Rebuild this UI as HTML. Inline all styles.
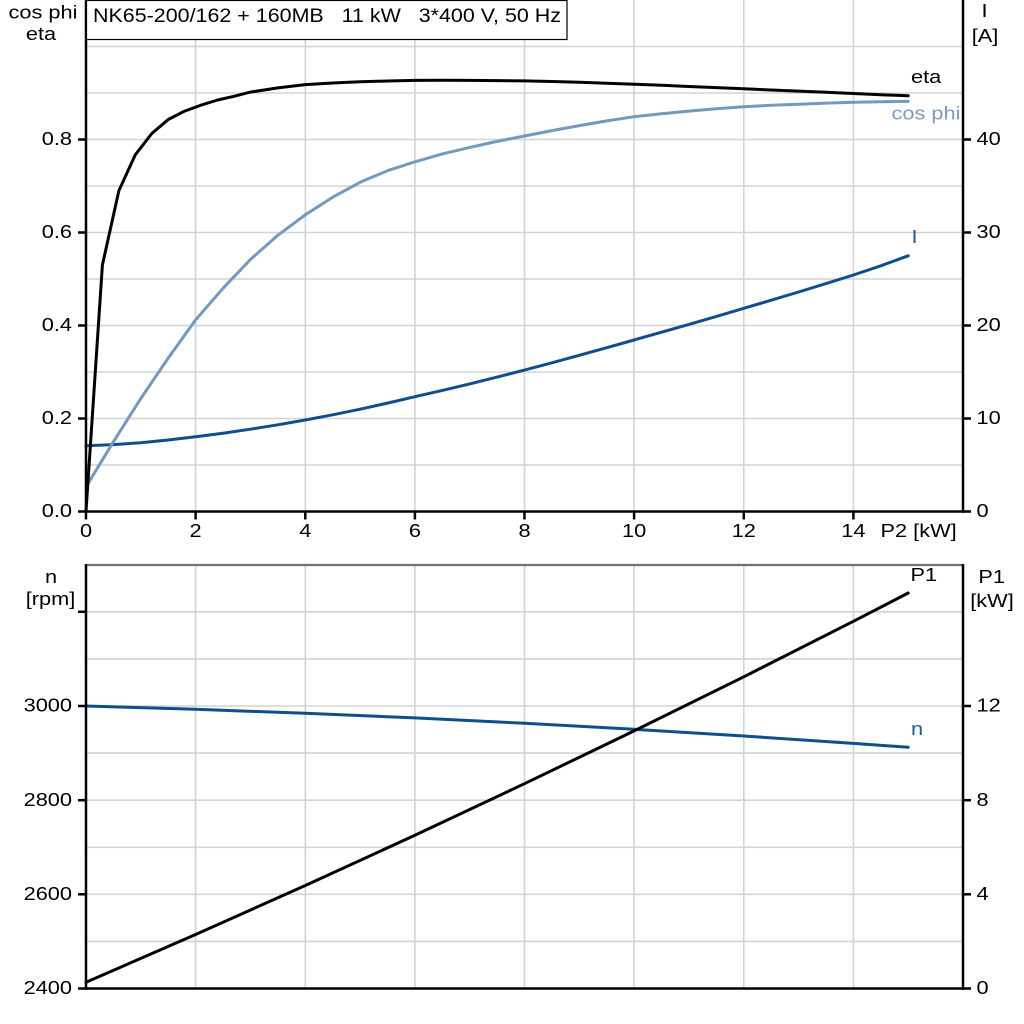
<!DOCTYPE html>
<html>
<head>
<meta charset="utf-8">
<style>
html,body{margin:0;padding:0;background:#fff;}
svg{display:block;}
text{font-family:"Liberation Sans",Arial,sans-serif;font-size:18.6px;fill:#000;}
</style>
</head>
<body>
<svg width="1024" height="1024" viewBox="0 0 1024 1024" xmlns="http://www.w3.org/2000/svg">
<rect x="0" y="0" width="1024" height="1024" fill="#fff"/>

<!-- ===== TOP CHART GRID ===== -->
<g stroke="#d3d3d3" stroke-width="1.6" fill="none">
  <line x1="86" y1="465" x2="963" y2="465"/>
  <line x1="86" y1="418.5" x2="963" y2="418.5"/>
  <line x1="86" y1="372" x2="963" y2="372"/>
  <line x1="86" y1="325.5" x2="963" y2="325.5"/>
  <line x1="86" y1="279" x2="963" y2="279"/>
  <line x1="86" y1="232.5" x2="963" y2="232.5"/>
  <line x1="86" y1="186" x2="963" y2="186"/>
  <line x1="86" y1="139.5" x2="963" y2="139.5"/>
  <line x1="86" y1="93" x2="963" y2="93"/>
  <line x1="86" y1="46.5" x2="963" y2="46.5"/>
  <line x1="195.6" y1="0" x2="195.6" y2="511.5"/>
  <line x1="305.3" y1="0" x2="305.3" y2="511.5"/>
  <line x1="414.9" y1="0" x2="414.9" y2="511.5"/>
  <line x1="524.5" y1="0" x2="524.5" y2="511.5"/>
  <line x1="634.1" y1="0" x2="634.1" y2="511.5"/>
  <line x1="743.8" y1="0" x2="743.8" y2="511.5"/>
  <line x1="853.4" y1="0" x2="853.4" y2="511.5"/>
</g>

<!-- ===== BOTTOM CHART GRID ===== -->
<g stroke="#d3d3d3" stroke-width="1.6" fill="none">
  <line x1="86" y1="611.8" x2="963" y2="611.8"/>
  <line x1="86" y1="658.9" x2="963" y2="658.9"/>
  <line x1="86" y1="706" x2="963" y2="706"/>
  <line x1="86" y1="753.1" x2="963" y2="753.1"/>
  <line x1="86" y1="800.2" x2="963" y2="800.2"/>
  <line x1="86" y1="847.3" x2="963" y2="847.3"/>
  <line x1="86" y1="894.3" x2="963" y2="894.3"/>
  <line x1="86" y1="941.4" x2="963" y2="941.4"/>
  <line x1="195.6" y1="565" x2="195.6" y2="988.5"/>
  <line x1="305.3" y1="565" x2="305.3" y2="988.5"/>
  <line x1="414.9" y1="565" x2="414.9" y2="988.5"/>
  <line x1="524.5" y1="565" x2="524.5" y2="988.5"/>
  <line x1="634.1" y1="565" x2="634.1" y2="988.5"/>
  <line x1="743.8" y1="565" x2="743.8" y2="988.5"/>
  <line x1="853.4" y1="565" x2="853.4" y2="988.5"/>
</g>

<!-- ===== TOP CHART CURVES ===== -->
<!-- I -->
<polyline fill="none" stroke="#0f4e8c" stroke-width="3" stroke-linejoin="round" stroke-linecap="round"
 points="86,445.7 113.4,444.6 140.8,442.7 168.2,440.0 195.6,436.7 223.0,433.2 250.4,429.2 277.8,424.8 305.3,420.0 332.7,414.8 360.1,409.2 387.5,403.1 414.9,396.7 442.3,390.4 469.7,383.9 497.1,377.1 524.5,370.1 551.9,362.8 579.3,355.3 606.7,347.7 634.1,340.0 661.5,332.2 688.9,324.4 716.4,316.4 743.8,308.3 771.2,300.2 798.6,292.0 826.0,283.6 853.4,275.0 880.8,265.8 908.2,255.8"/>
<!-- cos phi -->
<polyline fill="none" stroke="#7399bf" stroke-width="3" stroke-linejoin="round" stroke-linecap="round"
 points="86,486.9 113.4,441.8 140.8,398.5 168.2,358.1 195.6,319.9 223.0,288.3 250.4,259.5 277.8,235.3 305.3,214.8 332.7,197.2 360.1,182.3 387.5,170.7 414.9,161.8 442.3,153.9 469.7,147.4 497.1,141.4 524.5,136.0 551.9,130.6 579.3,125.6 606.7,120.9 634.1,116.7 661.5,113.7 688.9,111.1 716.4,108.7 743.8,106.7 771.2,105.3 798.6,104.2 826.0,103.1 853.4,102.3 880.8,101.8 908.2,101.4"/>
<!-- eta -->
<polyline fill="none" stroke="#000" stroke-width="3" stroke-linejoin="round" stroke-linecap="round"
 points="86,511.5 102.4,265.0 118.9,190.6 135.3,154.8 151.8,133.5 168.2,119.5 184.7,111.1 201.1,105.1 217.6,100.0 234.0,96.3 250.4,92.1 277.8,87.9 305.3,84.6 332.7,83.0 360.1,81.8 387.5,81.0 414.9,80.4 442.3,80.2 469.7,80.4 497.1,80.6 524.5,80.9 551.9,81.5 579.3,82.3 606.7,83.2 634.1,84.2 661.5,85.3 688.9,86.5 716.4,87.6 743.8,88.8 771.2,90.0 798.6,91.1 826.0,92.3 853.4,93.5 880.8,94.7 908.2,95.8"/>

<!-- ===== BOTTOM CHART CURVES ===== -->
<!-- n -->
<polyline fill="none" stroke="#0f4e8c" stroke-width="3" stroke-linejoin="round" stroke-linecap="round"
 points="86,706 195.6,709.3 305.3,713.3 414.9,717.9 524.5,723.3 634.1,729.3 743.8,736.0 853.4,743.4 908.2,747.3"/>
<!-- P1 -->
<polyline fill="none" stroke="#000" stroke-width="3" stroke-linejoin="round" stroke-linecap="round"
 points="86,982.3 195.6,934.5 305.3,885.5 414.9,835.3 524.5,783.7 634.1,730.9 743.8,676.8 853.4,621.3 908.2,593.0"/>

<!-- ===== AXES TOP ===== -->
<g stroke="#000" stroke-width="2.5" fill="none">
  <line x1="86" y1="0" x2="86" y2="512.7"/>
  <line x1="963" y1="0" x2="963" y2="512.7"/>
  <line x1="84.8" y1="511.5" x2="964.2" y2="511.5"/>
  <line x1="78" y1="511.5" x2="86" y2="511.5"/>
  <line x1="78" y1="418.5" x2="86" y2="418.5"/>
  <line x1="78" y1="325.5" x2="86" y2="325.5"/>
  <line x1="78" y1="232.5" x2="86" y2="232.5"/>
  <line x1="78" y1="139.5" x2="86" y2="139.5"/>
  <line x1="963" y1="511.5" x2="971" y2="511.5"/>
  <line x1="963" y1="418.5" x2="971" y2="418.5"/>
  <line x1="963" y1="325.5" x2="971" y2="325.5"/>
  <line x1="963" y1="232.5" x2="971" y2="232.5"/>
  <line x1="963" y1="139.5" x2="971" y2="139.5"/>
  <line x1="86" y1="511.5" x2="86" y2="519.5"/>
  <line x1="195.6" y1="511.5" x2="195.6" y2="519.5"/>
  <line x1="305.3" y1="511.5" x2="305.3" y2="519.5"/>
  <line x1="414.9" y1="511.5" x2="414.9" y2="519.5"/>
  <line x1="524.5" y1="511.5" x2="524.5" y2="519.5"/>
  <line x1="634.1" y1="511.5" x2="634.1" y2="519.5"/>
  <line x1="743.8" y1="511.5" x2="743.8" y2="519.5"/>
  <line x1="853.4" y1="511.5" x2="853.4" y2="519.5"/>
</g>

<!-- ===== AXES BOTTOM ===== -->
<line x1="86" y1="565" x2="963" y2="565" stroke="#707070" stroke-width="2.2"/>
<g stroke="#000" stroke-width="2.5" fill="none">
  <line x1="86" y1="564" x2="86" y2="989.7"/>
  <line x1="963" y1="564" x2="963" y2="989.7"/>
  <line x1="84.8" y1="988.5" x2="964.2" y2="988.5"/>
  <line x1="78" y1="611.8" x2="86" y2="611.8"/>
  <line x1="78" y1="706" x2="86" y2="706"/>
  <line x1="78" y1="800.2" x2="86" y2="800.2"/>
  <line x1="78" y1="894.3" x2="86" y2="894.3"/>
  <line x1="78" y1="988.5" x2="86" y2="988.5"/>
  <line x1="963" y1="706" x2="971" y2="706"/>
  <line x1="963" y1="800.2" x2="971" y2="800.2"/>
  <line x1="963" y1="894.3" x2="971" y2="894.3"/>
  <line x1="963" y1="988.5" x2="971" y2="988.5"/>
</g>

<!-- ===== TITLE BOX ===== -->
<rect x="86.5" y="0.5" width="480.5" height="39" fill="#fff" stroke="#000" stroke-width="1.2"/>
<text x="93" y="22" style="font-size:19.5px;white-space:pre" xml:space="preserve" textLength="468" lengthAdjust="spacingAndGlyphs">NK65-200/162 + 160MB   11 kW   3*400 V, 50 Hz</text>

<!-- ===== TOP LABELS ===== -->
<g text-anchor="end">
  <text transform="translate(72,517.1) scale(1.17,1)">0.0</text>
  <text transform="translate(72,424.1) scale(1.17,1)">0.2</text>
  <text transform="translate(72,331.1) scale(1.17,1)">0.4</text>
  <text transform="translate(72,238.1) scale(1.17,1)">0.6</text>
  <text transform="translate(72,145.1) scale(1.17,1)">0.8</text>
</g>
<g text-anchor="start">
  <text transform="translate(976.5,517.1) scale(1.17,1)">0</text>
  <text transform="translate(976.5,424.1) scale(1.17,1)">10</text>
  <text transform="translate(976.5,331.1) scale(1.17,1)">20</text>
  <text transform="translate(976.5,238.1) scale(1.17,1)">30</text>
  <text transform="translate(976.5,145.1) scale(1.17,1)">40</text>
</g>
<g text-anchor="middle">
  <text transform="translate(86,537) scale(1.17,1)">0</text>
  <text transform="translate(195.6,537) scale(1.17,1)">2</text>
  <text transform="translate(305.3,537) scale(1.17,1)">4</text>
  <text transform="translate(414.9,537) scale(1.17,1)">6</text>
  <text transform="translate(524.5,537) scale(1.17,1)">8</text>
  <text transform="translate(634.1,537) scale(1.17,1)">10</text>
  <text transform="translate(743.8,537) scale(1.17,1)">12</text>
  <text transform="translate(853.4,537) scale(1.17,1)">14</text>
  <text transform="translate(43,18.5) scale(1.17,1)">cos phi</text>
  <text transform="translate(41,40) scale(1.17,1)">eta</text>
  <text transform="translate(984.5,17) scale(1.17,1)">I</text>
  <text transform="translate(985,42) scale(1.17,1)">[A]</text>
</g>
<text transform="translate(880.5,537) scale(1.17,1)">P2 [kW]</text>

<!-- curve labels top -->
<text transform="translate(911,83) scale(1.17,1)">eta</text>
<text transform="translate(891.5,119.5) scale(1.17,1)" style="fill:#7a9cc1">cos phi</text>
<text transform="translate(911.5,243) scale(1.17,1)" style="fill:#1f5a96">I</text>

<!-- ===== BOTTOM LABELS ===== -->
<g text-anchor="end">
  <text transform="translate(72,711.6) scale(1.17,1)">3000</text>
  <text transform="translate(72,805.8) scale(1.17,1)">2800</text>
  <text transform="translate(72,899.9) scale(1.17,1)">2600</text>
  <text transform="translate(72,994.1) scale(1.17,1)">2400</text>
</g>
<g text-anchor="start">
  <text transform="translate(976.5,711.6) scale(1.17,1)">12</text>
  <text transform="translate(976.5,805.8) scale(1.17,1)">8</text>
  <text transform="translate(976.5,899.9) scale(1.17,1)">4</text>
  <text transform="translate(976.5,994.1) scale(1.17,1)">0</text>
</g>
<g text-anchor="middle">
  <text transform="translate(51,583) scale(1.17,1)">n</text>
  <text transform="translate(50.5,605) scale(1.17,1)">[rpm]</text>
  <text transform="translate(991.7,583) scale(1.17,1)">P1</text>
  <text transform="translate(992,607) scale(1.17,1)">[kW]</text>
</g>
<text transform="translate(910.5,581) scale(1.17,1)">P1</text>
<text transform="translate(911,735) scale(1.17,1)" style="fill:#1f5a96">n</text>
</svg>
</body>
</html>
